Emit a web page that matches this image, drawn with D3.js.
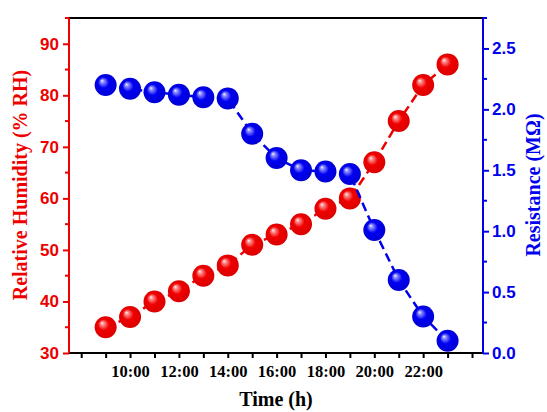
<!DOCTYPE html>
<html>
<head>
<meta charset="utf-8">
<script src="https://cdn.jsdelivr.net/npm/d3@7"></script>
<style>
  html, body { margin: 0; padding: 0; background: #fff; }
  svg { display: block; }
</style>
</head>
<body>
<svg id="chart" width="547" height="412"></svg>
<script>
// ---- data ----
const hours = [9, 10, 11, 12, 13, 14, 15, 16, 17, 18, 19, 20, 21, 22, 23];
const humidity = [35, 37, 40, 42, 45, 47, 51, 53, 55, 58, 60, 67, 75, 82, 86];
const resistance = [2.2, 2.17, 2.14, 2.12, 2.1, 2.09, 1.8, 1.6, 1.5, 1.49, 1.47, 1.01, 0.6, 0.3, 0.1];
const xTickValues = [8, 9, 10, 11, 12, 13, 14, 15, 16, 17, 18, 19, 20, 21, 22, 23, 24];
const xTickLabels = {10: "10:00", 12: "12:00", 14: "14:00", 16: "16:00", 18: "18:00", 20: "20:00", 22: "22:00"};
const leftTicks = [30, 40, 50, 60, 70, 80, 90];
const leftMinor = [35, 45, 55, 65, 75, 85, 95];
const rightTicks = [0, 0.5, 1.0, 1.5, 2.0, 2.5];
const rightMinor = [0.25, 0.75, 1.25, 1.75, 2.25, 2.75];

const RED = "#ee0000", BLUE = "#0000ee";
const svg = d3.select("#chart");
const L = 69, R = 483, T = 18, B = 353;

const x = d3.scaleLinear().domain([7.5, 24.45]).range([L, R]);
const yL = d3.scaleLinear().domain([30, 95]).range([B, T]);
const yR = d3.scaleLinear().domain([0, 2.75]).range([B, T]);

// gradients
const defs = svg.append("defs");
function grad(id, light, mid, dark) {
  const g = defs.append("radialGradient").attr("id", id)
    .attr("cx", "0.5").attr("cy", "0.5").attr("r", "0.55")
    .attr("fx", "0.33").attr("fy", "0.3");
  g.append("stop").attr("offset", "0").attr("stop-color", "#ffffff");
  g.append("stop").attr("offset", "0.12").attr("stop-color", light);
  g.append("stop").attr("offset", "0.45").attr("stop-color", mid);
  g.append("stop").attr("offset", "1").attr("stop-color", dark);
}
grad("gRed", "#ff9a9a", "#f00000", "#d80000");
grad("gBlue", "#9a9aff", "#0000f2", "#0000d0");

// top frame line
svg.append("line").attr("x1", L).attr("x2", R).attr("y1", T).attr("y2", T)
  .attr("stroke", "#000").attr("stroke-width", 2);

// bottom axis
const xAxis = d3.axisBottom(x).tickValues(xTickValues).tickSize(5)
  .tickFormat(d => xTickLabels[d] || "");
const gx = svg.append("g").attr("transform", `translate(0,${B})`).call(xAxis);
gx.select(".domain").attr("stroke", "#000").attr("stroke-width", 2)
  .attr("d", `M${L},0H${R}`);
gx.selectAll(".tick line").attr("stroke", "#000").attr("stroke-width", 2);
gx.selectAll(".tick text").attr("fill", "#000")
  .style("font-family", "'Liberation Serif', 'Times New Roman', serif")
  .style("font-weight", "bold").style("font-size", "16.5px").attr("dy", "0.95em");

// left axis
const yAxisL = d3.axisLeft(yL).tickValues(leftTicks).tickSize(6).tickPadding(4);
const gl = svg.append("g").attr("transform", `translate(${L},0)`).call(yAxisL);
gl.select(".domain").attr("stroke", RED).attr("stroke-width", 2).attr("d", `M0,${B}V${T}`);
gl.selectAll(".tick line").attr("stroke", RED).attr("stroke-width", 2);
gl.selectAll(".tick text").attr("fill", RED)
  .style("font-family", "'Liberation Sans', Arial, sans-serif")
  .style("font-weight", "bold").style("font-size", "17px");
gl.selectAll(".minor").data(leftMinor).enter().append("line")
  .attr("x1", 0).attr("x2", -4).attr("y1", d => yL(d)).attr("y2", d => yL(d))
  .attr("stroke", RED).attr("stroke-width", 2);

// right axis
const yAxisR = d3.axisRight(yR).tickValues(rightTicks).tickSize(6).tickPadding(3)
  .tickFormat(d3.format(".1f"));
const gr = svg.append("g").attr("transform", `translate(${R},0)`).call(yAxisR);
gr.select(".domain").attr("stroke", BLUE).attr("stroke-width", 2).attr("d", `M0,${B}V${T}`);
gr.selectAll(".tick line").attr("stroke", BLUE).attr("stroke-width", 2);
gr.selectAll(".tick text").attr("fill", BLUE)
  .style("font-family", "'Liberation Sans', Arial, sans-serif")
  .style("font-weight", "bold").style("font-size", "17px");
gr.selectAll(".minor").data(rightMinor).enter().append("line")
  .attr("x1", 0).attr("x2", 4).attr("y1", d => yR(d)).attr("y2", d => yR(d))
  .attr("stroke", BLUE).attr("stroke-width", 2);

// axis titles
const serif = "'Liberation Serif', 'Times New Roman', serif";
svg.append("text").attr("transform", `translate(27,185) rotate(-90)`)
  .attr("text-anchor", "middle").attr("fill", RED)
  .style("font-family", serif).style("font-weight", "bold").style("font-size", "20px")
  .text("Relative Humidity (% RH)");
svg.append("text").attr("transform", `translate(540,185) rotate(-90)`)
  .attr("text-anchor", "middle").attr("fill", BLUE)
  .style("font-family", serif).style("font-weight", "bold").style("font-size", "20px")
  .text("Resistance (MΩ)");
svg.append("text").attr("x", 276).attr("y", 406)
  .attr("text-anchor", "middle").attr("fill", "#000")
  .style("font-family", serif).style("font-weight", "bold").style("font-size", "20px")
  .text("Time (h)");

// series
const redData = hours.map((h, i) => [h, humidity[i]]);
const blueData = hours.map((h, i) => [h, resistance[i]]);

svg.append("path").datum(redData)
  .attr("d", d3.line().x(d => x(d[0])).y(d => yL(d[1])))
  .attr("fill", "none").attr("stroke", RED).attr("stroke-width", 2.5)
  .attr("stroke-dasharray", "9,5");
svg.append("g").selectAll("circle").data(redData).enter().append("circle")
  .attr("cx", d => x(d[0])).attr("cy", d => yL(d[1])).attr("r", 11)
  .attr("fill", "url(#gRed)");

svg.append("path").datum(blueData)
  .attr("d", d3.line().x(d => x(d[0])).y(d => yR(d[1])))
  .attr("fill", "none").attr("stroke", BLUE).attr("stroke-width", 2.5)
  .attr("stroke-dasharray", "9,5");
svg.append("g").selectAll("circle").data(blueData).enter().append("circle")
  .attr("cx", d => x(d[0])).attr("cy", d => yR(d[1])).attr("r", 11)
  .attr("fill", "url(#gBlue)");
</script>
</body>
</html>
